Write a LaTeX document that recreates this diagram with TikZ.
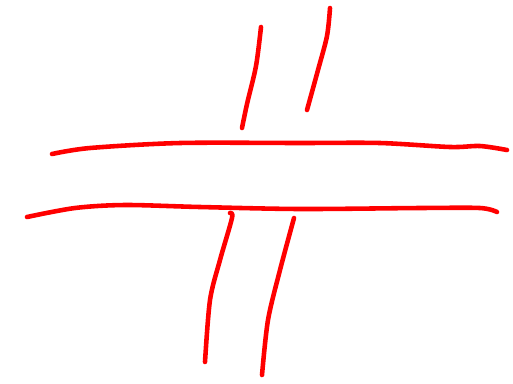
\documentclass[tikz,border=0pt]{standalone}
\usepackage{tikz}

\begin{document}
\begin{tikzpicture}[x=0.02cm,y=-0.02cm]
  \tikzstyle{stroke}=[draw=red,line width=2.6pt,line cap=round,line join=round]
  \useasboundingbox (0,0) rectangle (513,383);
  % upper short strokes
  \draw[stroke] plot[smooth] coordinates {(261,27) (256,66) (247,104) (242,128)};
  \draw[stroke] plot[smooth] coordinates {(330,8) (327,36) (318,70) (307,110)};
  % the two long strokes
  \draw[stroke] plot[smooth] coordinates {(52,154) (90,148) (180,143) (300,143) (380,143) (450,147) (480,146) (507,150)};
  \draw[stroke] plot[smooth] coordinates {(27,217) (75,208) (125,205) (200,207) (300,209) (420,208) (480,208) (497,212)};
  % lower strokes
  \draw[stroke] plot[smooth] coordinates {(230,213) (232,218) (220,260) (210,300) (205,362)};
  \draw[stroke] plot[smooth] coordinates {(294,218) (280,270) (268,320) (262,375)};
\end{tikzpicture}
\end{document}
